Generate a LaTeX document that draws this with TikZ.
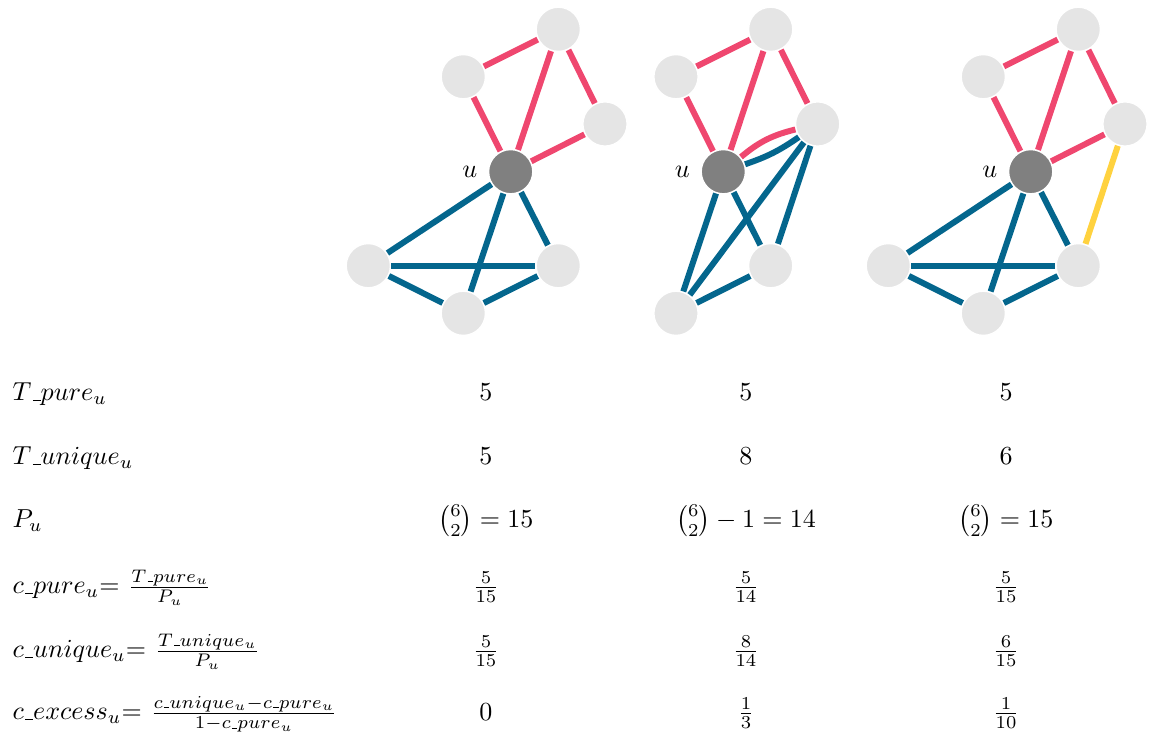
\documentclass[tikz,border=0pt]{standalone}
\usepackage{xcolor}
\usepackage{tikz}
\usetikzlibrary{positioning}
\usepackage{amsmath}
\usepackage{amssymb}
\definecolor{edgered}{RGB}{239, 71, 111}
\definecolor{edgeblue}{RGB}{4, 102, 141}
\definecolor{edgeyellow}{RGB}{255, 210, 63}
\newcommand{\us}{\text{\kern.06em\vbox{\hrule width.3em}}}

\begin{document}
\begin{tikzpicture}[
    x=0.0135cm,
    y=-0.0135cm,
    vertex/.style={
        circle,
        fill=gray!20,
        draw=white,
        line width=0.6pt,
        minimum size=0.6cm,
        inner sep=0pt
    },
    centervertex/.style={
        vertex,
        fill=gray
    },
    redge/.style={
        draw=edgered,
        line width=2.3pt
    },
    bedge/.style={
        draw=edgeblue,
        line width=2.3pt
    },
    yedge/.style={
        draw=edgeyellow,
        line width=2.3pt
    },
    rowlabel/.style={
        anchor=base west,
        inner sep=0pt
    },
    cell/.style={
        anchor=base,
        inner sep=0pt
    }
]
\useasboundingbox (0,0) rectangle (1157,735);

% Graph 1
\node (uA) [centervertex] at (510.7,171.7) {};
\node (tlA) [vertex] at (463.3,76.7) {};
\node (topA) [vertex] at (558.3,29.3) {};
\node (rA) [vertex] at (605,124) {};
\node (blA) [vertex] at (368.3,265.7) {};
\node (brA) [vertex] at (558.3,265.7) {};
\node (bA) [vertex] at (463.3,313.3) {};
\node (ulA) [left=0.5pt of uA] {$u$};

\draw [redge] (tlA) -- (topA);
\draw [redge] (tlA) -- (uA);
\draw [redge] (topA) -- (uA);
\draw [redge] (topA) -- (rA);
\draw [redge] (rA) -- (uA);
\draw [bedge] (uA) -- (blA);
\draw [bedge] (uA) -- (brA);
\draw [bedge] (uA) -- (bA);
\draw [bedge] (blA) -- (brA);
\draw [bedge] (blA) -- (bA);
\draw [bedge] (bA) -- (brA);

% Graph 2
\node (uB) [centervertex] at (723.3,171.7) {};
\node (tlB) [vertex] at (676,76.7) {};
\node (topB) [vertex] at (770.7,29.3) {};
\node (rB) [vertex] at (817.7,124) {};
\node (bmB) [vertex] at (770.7,265.7) {};
\node (blB) [vertex] at (676,313.3) {};
\node (ulB) [left=0.5pt of uB] {$u$};

\draw [redge] (tlB) -- (topB);
\draw [redge] (tlB) -- (uB);
\draw [redge] (topB) -- (uB);
\draw [redge] (topB) -- (rB);
\draw [redge] (uB) to[bend left=13] (rB);
\draw [bedge] (uB) to[bend right=8] (rB);
\draw [bedge] (uB) -- (blB);
\draw [bedge] (uB) -- (bmB);
\draw [bedge] (blB) -- (bmB);
\draw [bedge] (blB) -- (rB);
\draw [bedge] (bmB) -- (rB);

% Graph 3
\node (uC) [centervertex] at (1030.7,171.7) {};
\node (tlC) [vertex] at (983.3,76.7) {};
\node (topC) [vertex] at (1078.3,29.3) {};
\node (rC) [vertex] at (1125,124) {};
\node (blC) [vertex] at (888.3,265.7) {};
\node (brC) [vertex] at (1078.3,265.7) {};
\node (bC) [vertex] at (983.3,313.3) {};
\node (ulC) [left=0.5pt of uC] {$u$};

\draw [redge] (tlC) -- (topC);
\draw [redge] (tlC) -- (uC);
\draw [redge] (topC) -- (uC);
\draw [redge] (topC) -- (rC);
\draw [redge] (rC) -- (uC);
\draw [yedge] (rC) -- (brC);
\draw [bedge] (uC) -- (blC);
\draw [bedge] (uC) -- (brC);
\draw [bedge] (uC) -- (bC);
\draw [bedge] (blC) -- (brC);
\draw [bedge] (blC) -- (bC);
\draw [bedge] (bC) -- (brC);

% Table
\node (tpure) [rowlabel] at (12,401) {$T\us pure_u$};
\node (tpureA) [cell] at (486,401) {$5$};
\node (tpureB) [cell] at (746,401) {$5$};
\node (tpureC) [cell] at (1006,401) {$5$};

\node (tuniq) [rowlabel] at (12,465) {$T\us unique_u$};
\node (tuniqA) [cell] at (486,465) {$5$};
\node (tuniqB) [cell] at (746,465) {$8$};
\node (tuniqC) [cell] at (1006,465) {$6$};

\node (pu) [rowlabel] at (12,528) {$P_u$};
\node (puA) [cell] at (486,528) {$\binom{6}{2} = 15$};
\node (puB) [cell] at (746,528) {$\binom{6}{2} - 1 = 14$};
\node (puC) [cell] at (1006,528) {$\binom{6}{2} = 15$};

\node (cpure) [rowlabel] at (12,594) {$c\us pure_u$= $\frac{T\us pure_u}{P_u}$};
\node (cpureA) [cell] at (486,594) {$\frac{5}{15}$};
\node (cpureB) [cell] at (746,594) {$\frac{5}{14}$};
\node (cpureC) [cell] at (1006,594) {$\frac{5}{15}$};

\node (cuniq) [rowlabel] at (12,658) {$c\us unique_u$= $\frac{T\us unique_u}{P_u}$};
\node (cuniqA) [cell] at (486,658) {$\frac{5}{15}$};
\node (cuniqB) [cell] at (746,658) {$\frac{8}{14}$};
\node (cuniqC) [cell] at (1006,658) {$\frac{6}{15}$};

\node (cexc) [rowlabel] at (12,720) {$c\us excess_u$= $\frac{c\us unique_u - c\us pure_u}{1 - c\us pure_u}$};
\node (cexcA) [cell] at (486,721) {$0$};
\node (cexcB) [cell] at (746,720) {$\frac{1}{3}$};
\node (cexcC) [cell] at (1006,720) {$\frac{1}{10}$};

\end{tikzpicture}
\end{document}
